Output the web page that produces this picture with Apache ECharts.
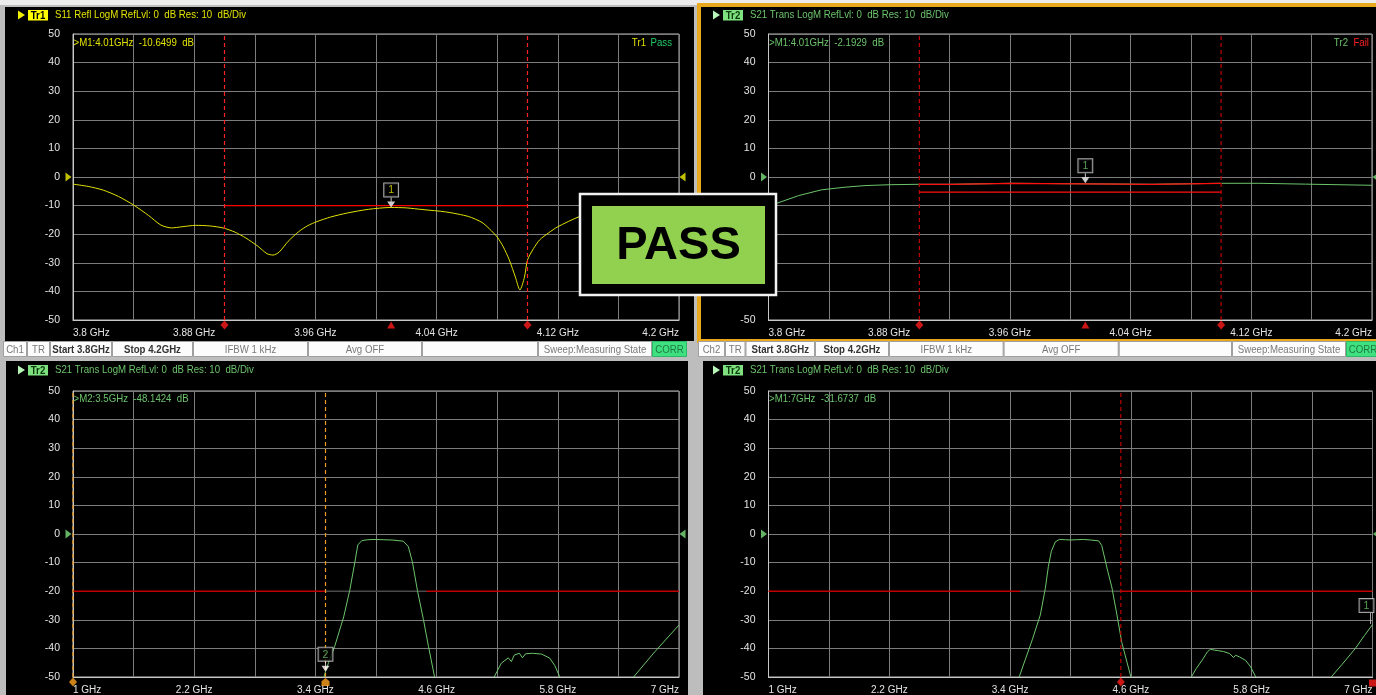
<!DOCTYPE html>
<html><head><meta charset="utf-8">
<script src="https://cdn.jsdelivr.net/npm/echarts@6.0.0/dist/echarts.min.js"></script>
<style>html,body{margin:0;padding:0;background:#bdbdbd;overflow:hidden}#c{width:1376px;height:695px}</style>
</head><body><div id="c"></div><script>
// ---------- DATA ----------
const s11Freq = [3.800,3.810,3.820,3.830,3.840,3.850,3.858,3.865,3.872,3.881,3.890,3.899,3.907,3.914,3.922,3.928,3.932,3.936,3.942,3.949,3.955,3.961,3.970,3.981,3.995,4.010,4.020,4.031,4.046,4.061,4.070,4.075,4.080,4.084,4.088,4.092,4.095,4.098,4.100,4.104,4.108,4.114,4.120,4.134,4.150,4.170,4.200];
const s11Val  = [-2.5,-3.3,-4.6,-6.8,-9.8,-13.5,-16.8,-17.8,-17.4,-16.9,-17.1,-17.8,-19.3,-21.3,-24.2,-26.8,-27.3,-26.3,-22.5,-19.1,-17.0,-15.6,-14.0,-12.6,-11.3,-10.65,-10.8,-11.4,-12.2,-13.8,-15.9,-18.2,-21.0,-24.4,-29.0,-35.0,-39.5,-35.0,-29.0,-25.0,-22.0,-19.5,-17.4,-13.9,-11.5,-9.6,-8.0];

const s21nFreq = [3.800,3.806,3.820,3.835,3.850,3.864,3.880,3.900,3.921,3.922,3.961,3.962,4.054,4.055,4.100,4.125,4.126,4.156,4.157,4.200];
const s21nVal  = [-10.5,-9.1,-6.5,-4.5,-3.6,-3.0,-2.7,-2.55,-2.55,-2.2,-2.2,-2.55,-2.55,-2.2,-2.2,-2.2,-2.5,-2.5,-2.9,-2.9];

const blFreq = [3.485,3.50,3.53,3.59,3.68,3.74,3.79,3.82,3.86,3.92,3.98,4.07,4.16,4.27,4.32,4.36,4.41,4.47,4.52,4.58, 4.9, 5.17,5.24,5.31,5.34,5.37,5.42,5.45,5.48,5.55,5.64,5.72,5.77,5.82, 6.2, 6.55,6.76,6.99,7.0];
const blVal  = [-50,-48.1,-45,-39.4,-29,-19.7,-10,-3.8,-2.3,-2.0,-1.9,-2.0,-2.1,-2.5,-4.4,-9.7,-19.7,-30,-39.4,-50, null, -50,-45.2,-43.3,-44.6,-42.3,-41.7,-43.3,-41.9,-41.7,-42.0,-43.4,-46.0,-50, null, -50,-41.2,-32.2,-31.8];

const brFreq = [3.49,3.55,3.62,3.70,3.75,3.78,3.81,3.85,3.89,3.95,4.0,4.06,4.13,4.2,4.28,4.31,4.33,4.37,4.41,4.46,4.51,4.6, 4.9, 5.2,5.25,5.31,5.36,5.39,5.43,5.47,5.52,5.58,5.62,5.64,5.68,5.74,5.79,5.84, 6.2, 6.59,6.7,6.83,6.92,7.0];
const brVal  = [-50,-44,-37,-28.3,-19,-11.4,-6,-2.7,-1.9,-2.0,-2.1,-2.0,-1.9,-2.1,-2.4,-4,-7,-13,-18.5,-28,-38,-50, null, -50,-47,-44,-41.2,-40.3,-40.6,-40.8,-41.1,-41.8,-43.2,-42.4,-43,-44.2,-46.5,-50, null, -50,-45.5,-40,-35.5,-31.67];

const topLimFreq = [3.9, 4.1];
const s11LimVal  = [-10, -10];
const s21nLimVal = [-5.3, -5.3];
const wideLimRedAFreq = [1, 3.5];
const wideLimGrayFreq = [3.5, 4.5];
const wideLimRedBFreq = [4.5, 7];
const wideLimVal = [-20, -20];

const markerName = ['M1','M1','M2','M1'];
const markerNum  = ['1','1','2','1'];
const markerFreq = [4.01, 4.01, 3.5, 7.0];
const markerVal  = [-10.6499, -2.1929, -48.1424, -31.6737];

const tlDash = [3.9, 4.1], trDash = [3.9, 4.1], blDash = [1, 3.5], brDash = [4.5];
const topTickGHz = [3.8, 4.2, 0.04];
const botTickGHz = [1, 7, 0.6];
const dbAxis = [-50, 50, 10];

// ---------- STYLE ----------
const FONT = '"Liberation Sans",Arial,sans-serif';
const SX = 0.84;
const YEL = '#e2e200', GRN = '#6cc46c', RED = '#ff1a1a', DRED = '#c00000', ORG = '#f09a20';
const ARROW_DOWN = 'path://M4.4,0L5.6,0L5.6,4L10,4L5,10L0,4L4.4,4Z';
const TRI_RIGHT = 'path://M0,0L10,5L0,10Z';
const TRI_LEFT = 'path://M10,0L0,5L10,10Z';
const TRI_UP = 'path://M5,0L10,9L0,9Z';
const HOUSE = 'path://M5,0L10,4L10,10L0,10L0,4Z';

const grids = [
  {left:73, top:34, width:606, height:286},
  {left:768.5, top:34, width:603.5, height:286},
  {left:73, top:391, width:606, height:286},
  {left:768.5, top:391, width:604, height:286}
];

function xCfg(gi, t, dec){
  const [min,max,interval] = t;
  return {type:'value', gridIndex:gi, min, max, interval,
    axisLine:{show:true, onZero:false, lineStyle:{color:'#c8c8c8', width:1}}, axisTick:{show:false},
    splitLine:{show:true, lineStyle:{color:'#7c7c7c', width:1}},
    axisLabel:{color:'#e4e4e4', fontFamily:FONT, fontSize:10, margin:8, alignMinLabel:'left', alignMaxLabel:'right', showMinLabel:true, showMaxLabel:true,
      formatter: v => { const k = Math.round((v-min)/interval); return k%2===0 ? (+(+v).toFixed(dec))+' GHz' : ''; }}
  };
}
function yCfg(gi){
  return {type:'value', gridIndex:gi, min:dbAxis[0], max:dbAxis[1], interval:dbAxis[2],
    axisLine:{show:true, onZero:false, lineStyle:{color:'#c8c8c8'}}, axisTick:{show:false},
    splitLine:{show:true, lineStyle:{color:'#7c7c7c', width:1}},
    axisLabel:{color:'#e4e4e4', fontFamily:FONT, fontSize:10.5, margin:13}
  };
}
const pts = (f, v) => f.map((x,i) => [x, v[i] === null ? '-' : v[i]]);

const series = [];
function line(gi, data, color, w, z, extra){
  series.push(Object.assign({type:'line', xAxisIndex:gi, yAxisIndex:gi, data, symbol:'none', silent:true,
    lineStyle:{color, width:w}, z:z||3, connectNulls:false}, extra||{}));
}
function dashLines(gi, list, color){
  list.forEach(f => {
    line(gi, [[f, dbAxis[0]], [f, dbAxis[1]]], color, 1.2, 7, {lineStyle:{color, width:1.2, type:[4,3]}});
  });
}
function sym(gi, data, symbol, size, offset, color, z){
  series.push({type:'scatter', xAxisIndex:gi, yAxisIndex:gi, data, symbol, symbolSize:size, symbolOffset:offset,
    itemStyle:{color}, clip:false, silent:true, z:z||8});
}
function refTri(gi, f0, f1, color){
  sym(gi, [[f0,0]], TRI_RIGHT, [6,9], [-4.5,0], color);
  sym(gi, [[f1,0]], TRI_LEFT, [6,9], [3.5,0], color);
}
function marker(gi, i, color, leftBox){
  const p = [[markerFreq[i], markerVal[i]]];
  const lbl = {show:true, formatter:markerNum[i], position:'top', distance:1, color, fontFamily:FONT, fontSize:10.5,
    backgroundColor:'#000', borderColor:'#d6d6d6', borderWidth:1, padding:[1,4,0,4], lineHeight:12};
  if (!leftBox){
    series.push({type:'scatter', xAxisIndex:gi, yAxisIndex:gi, data:p, symbol:ARROW_DOWN, symbolSize:[8,10], symbolOffset:[0,-5],
      itemStyle:{color:'#ffffff'}, clip:false, silent:true, z:9, label:lbl});
  } else {
    series.push({type:'scatter', xAxisIndex:gi, yAxisIndex:gi, data:p, symbol:'rect', symbolSize:[1,11], symbolOffset:[-2,-6],
      itemStyle:{color:'#d0d0d0'}, clip:false, silent:true, z:9, label:Object.assign(lbl,{distance:1, offset:[-4,0]})});
  }
}

// Top-left (S11)
line(0, pts(topLimFreq, s11LimVal), '#ff0000', 1.3, 4);
line(0, pts(s11Freq, s11Val), YEL, 1, 5, {smooth:0.25});
dashLines(0, tlDash, '#ff2020');
sym(0, tlDash.map(f=>[f,-50]), 'diamond', [8,9], [0,5], RED);
sym(0, [[markerFreq[0],-50]], TRI_UP, [8,7], [0,5], RED);
refTri(0, 3.8, 4.2, '#f0f000');
marker(0, 0, YEL);

// Top-right (S21 narrow)
line(1, pts(s21nFreq, s21nVal), GRN, 1, 5);
line(1, pts(s21nFreq, s21nVal).filter(p=>p[0]>=3.9 && p[0]<=4.1), '#ff1010', 1.3, 6);
line(1, pts(topLimFreq, s21nLimVal), '#ff1010', 1.3, 4);
dashLines(1, trDash, DRED);
sym(1, trDash.map(f=>[f,-50]), 'diamond', [8,9], [0,5], RED);
sym(1, [[markerFreq[1],-50]], TRI_UP, [8,7], [0,5], RED);
refTri(1, 3.8, 4.2, '#7ee07e');
marker(1, 1, GRN);

// Bottom-left
line(2, pts(wideLimRedAFreq, wideLimVal), DRED, 1.5, 4);
line(2, pts(wideLimGrayFreq, wideLimVal), '#4a4a4a', 1.5, 4);
line(2, pts(wideLimRedBFreq, wideLimVal), DRED, 1.5, 4);
line(2, pts(blFreq, blVal), GRN, 1, 5);
dashLines(2, blDash, ORG);
sym(2, [[blDash[0],-50]], 'diamond', [8,9], [0,5], '#ffa21e');
sym(2, [[blDash[1],-50]], HOUSE, [8,8], [0,5], '#ffa21e');
refTri(2, 1, 7, '#7ee07e');
marker(2, 2, GRN);

// Bottom-right
line(3, pts(wideLimRedAFreq, wideLimVal), DRED, 1.5, 4);
line(3, pts(wideLimGrayFreq, wideLimVal), '#4a4a4a', 1.5, 4);
line(3, pts(wideLimRedBFreq, wideLimVal), DRED, 1.5, 4);
line(3, pts(brFreq, brVal), GRN, 1, 5);
dashLines(3, brDash, DRED);
sym(3, [[brDash[0],-50]], 'diamond', [8,9], [0,5], RED);
sym(3, [[markerFreq[3],-50]], 'rect', [7,7], [0,6], RED);
refTri(3, 1, 7, '#7ee07e');
marker(3, 3, GRN, true);

// ---------- FRAME / TEXT ----------
const G = [];
function rect(x,y,w,h,fill,stroke,lw,z){ G.push({type:'rect', silent:true, z:(z===undefined?-10:z), shape:{x,y,width:w,height:h}, style:{fill, stroke:stroke||null, lineWidth:lw||0}}); }
function txt(x,y,t,fill,opt){ opt=opt||{}; const a=opt.align||'left';
  G.push({type:'text', silent:true, z:opt.z||20, x, y, scaleX:(opt.sx===undefined?SX:opt.sx),
    style:{text:t, fill, font:(opt.bold?'bold ':'')+(opt.size||11)+'px '+(opt.family||FONT), align:a, textAlign:a, verticalAlign:'middle', textVerticalAlign:'middle'}}); }
function poly(points, fill, z){ G.push({type:'polygon', silent:true, z:z||20, shape:{points}, style:{fill}}); }

rect(0,0,1376,5,'#ececec');
rect(5,7,689,334,'#000');
rect(699,5,681,336,'#000','#eaa81c',4);
rect(6,361,682,334,'#000');
rect(703,361,673,334,'#000');

// headers
function header(x0, y0, tag, tagBg, tagFg, arrow, textColor, label){
  poly([[x0,y0-4.5],[x0+7,y0],[x0,y0+4.5]], arrow);
  rect(x0+10,y0-5,20,10.5,tagBg,null,0,15);
  txt(x0+20,y0+0.5,tag,tagFg,{align:'center',bold:true,size:11.5});
  txt(x0+37,y0,label,textColor,{size:11.5});
}
header(18,15,'Tr1','#ffff00','#000','#f0f000',YEL,'S11 Refl LogM RefLvl: 0  dB Res: 10  dB/Div');
header(713,15,'Tr2','#7ee07e','#0a3a0a','#b8f5b8',GRN,'S21 Trans LogM RefLvl: 0  dB Res: 10  dB/Div');
header(18,370,'Tr2','#7ee07e','#0a3a0a','#b8f5b8',GRN,'S21 Trans LogM RefLvl: 0  dB Res: 10  dB/Div');
header(713,370,'Tr2','#7ee07e','#0a3a0a','#b8f5b8',GRN,'S21 Trans LogM RefLvl: 0  dB Res: 10  dB/Div');

const readout = i => '>' + markerName[i] + ':' + (+markerFreq[i]) + 'GHz  ' + markerVal[i].toFixed(4) + '  dB';
txt(73.5,43,readout(0),YEL,{size:11.5});
txt(769,43,readout(1),GRN,{size:11.5});
txt(73.5,399,readout(2),GRN,{size:11.5});
txt(769,399,readout(3),GRN,{size:11.5});

txt(646,43,'Tr1',YEL,{align:'right',size:11.5});
txt(672,43,'Pass','#22cc66',{align:'right',size:11.5});
txt(1348,43,'Tr2',GRN,{align:'right',size:11.5});
txt(1369,43,'Fail','#ff2020',{align:'right',size:11.5});

// status bars
const barL = [['Ch1',3,27],['TR',27,50],['Start 3.8GHz',50,112,'b'],['Stop 4.2GHz',112,193,'b'],['IFBW 1 kHz',193,308],['Avg OFF',308,422],['',422,538],['Sweep:Measuring State',538,652],['CORR',652,687,'c']];
const barR = [['Ch2',698,725],['TR',725,745.5],['Start 3.8GHz',745.5,815,'b'],['Stop 4.2GHz',815,889,'b'],['IFBW 1 kHz',889,1003.6],['Avg OFF',1003.6,1118.7],['',1118.7,1232],['Sweep:Measuring State',1232,1346],['CORR',1346,1380,'c']];
[barL, barR].forEach(bar => bar.forEach(c => {
  const [t,x0,x1,k] = c;
  rect(x0+0.5,341.5,x1-x0-1,15,k==='c'?'#3fe07f':'#fcfcfc',k==='c'?'#2cb864':'#a0a0a0',1,-5);
  if (t) txt((x0+x1)/2,349.5,t,k==='b'?'#333':(k==='c'?'#1e7a44':'#7a7a7a'),{align:'center',bold:k==='b',size:11.5});
}));

// PASS box
rect(580,194,196,101,'#000','#f2f2f2',2.5,100);
rect(592,206,173,78,'#92d050',null,0,101);
txt(678.5,246,'PASS','#000',{align:'center',bold:true,size:47,sx:1,z:102});

const chart = echarts.init(document.getElementById('c'), null, {renderer:'canvas'});
chart.setOption({
  animation:false, backgroundColor:'transparent',
  grid: grids.map(gr => Object.assign({show:true, borderColor:'#b8b8b8', borderWidth:1, backgroundColor:'transparent'}, gr)),
  xAxis:[xCfg(0,topTickGHz,2), xCfg(1,topTickGHz,2), xCfg(2,botTickGHz,1), xCfg(3,botTickGHz,1)],
  yAxis:[0,1,2,3].map(yCfg),
  series,
  graphic:{elements:G}
});
</script></body></html>
